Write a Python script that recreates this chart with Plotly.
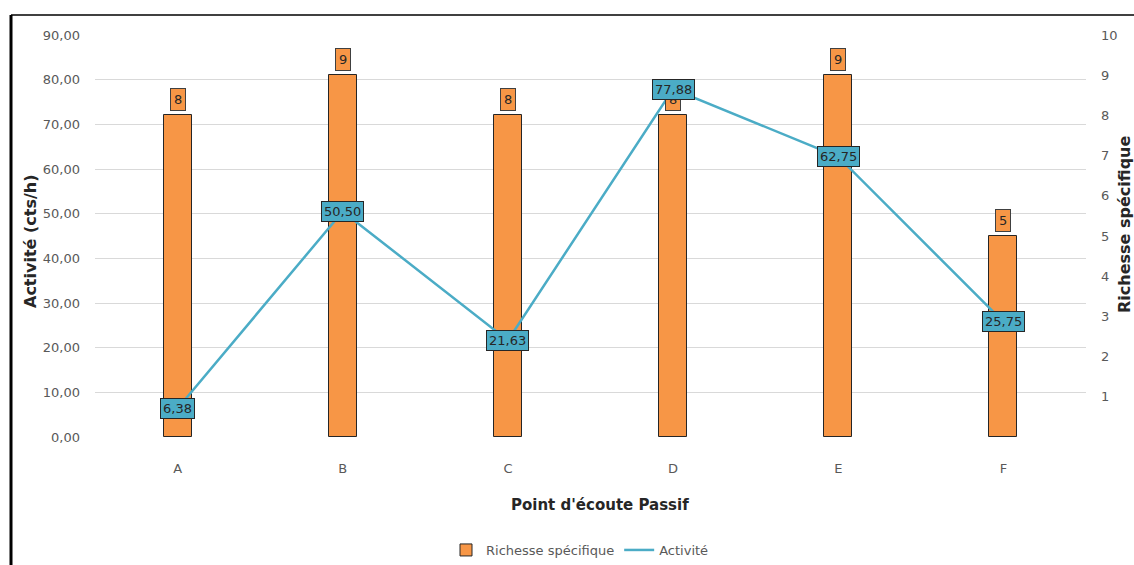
import plotly.graph_objects as go

# Data
points = ["A", "B", "C", "D", "E", "F"]
richesse = [8, 9, 8, 8, 9, 5]
activite = [6.38, 50.50, 21.63, 77.88, 62.75, 25.75]
left_ticks = [0, 10, 20, 30, 40, 50, 60, 70, 80, 90]
right_ticks = [1, 2, 3, 4, 5, 6, 7, 8, 9, 10]

ORANGE = "#F79646"
TEAL = "#4BACC6"
GREY = "#595959"
DARK = "#262626"
FONT = "DejaVu Sans"

W, H = 1134, 565
ML, MR, MT, MB = 95, 48, 35, 128
PW = W - ML - MR
PH = H - MT - MB


def px_x(p):
    return (p - ML) / PW


def px_y(p):
    return (H - MB - p) / PH


fig = go.Figure()

fig.add_trace(go.Bar(
    x=points, y=richesse, name="Richesse spécifique",
    marker=dict(color=ORANGE, line=dict(color=DARK, width=1)),
    width=0.17, yaxis="y",
))

fig.add_trace(go.Scatter(
    x=points, y=activite, name="Activité", mode="lines",
    line=dict(color=TEAL, width=2.5), yaxis="y2",
))

annotations = []
for p, r in zip(points, richesse):
    annotations.append(dict(
        x=p, y=r, xref="x", yref="y", text=str(r), showarrow=False,
        xanchor="center", yanchor="bottom", yshift=4,
        font=dict(family=FONT, size=13, color=DARK),
        bgcolor=ORANGE, bordercolor="#404040", borderwidth=1, borderpad=3,
    ))
for p, a in zip(points, activite):
    annotations.append(dict(
        x=p, y=a, xref="x", yref="y2",
        text=f"{a:.2f}".replace(".", ","), showarrow=False,
        xanchor="center", yanchor="middle",
        font=dict(family=FONT, size=13, color=DARK),
        bgcolor=TEAL, bordercolor=DARK, borderwidth=1, borderpad=2,
    ))

annotations.append(dict(
    x=px_x(30), y=px_y(241), xref="paper", yref="paper",
    xanchor="center", yanchor="middle",
    text="<b>Activité (cts/h)</b>", textangle=-90, showarrow=False,
    font=dict(family=FONT, size=16, color=DARK),
))
annotations.append(dict(
    x=px_x(1124), y=px_y(224), xref="paper", yref="paper",
    xanchor="center", yanchor="middle",
    text="<b>Richesse spécifique</b>", textangle=-90, showarrow=False,
    font=dict(family=FONT, size=16, color=DARK),
))
annotations.append(dict(
    x=px_x(600), y=px_y(505), xref="paper", yref="paper",
    xanchor="center", yanchor="middle",
    text="<b>Point d'écoute Passif</b>", showarrow=False,
    font=dict(family=FONT, size=15, color=DARK),
))

shapes = [
    dict(type="line", xref="paper", yref="paper",
         x0=px_x(11), x1=px_x(1134), y0=px_y(15), y1=px_y(15),
         line=dict(color="black", width=1.5)),
    dict(type="line", xref="paper", yref="paper",
         x0=px_x(11), x1=px_x(11), y0=px_y(15), y1=px_y(565),
         line=dict(color="black", width=3)),
]

fig.update_layout(
    width=W, height=H,
    margin=dict(l=ML, r=MR, t=MT, b=MB, autoexpand=False),
    paper_bgcolor="white", plot_bgcolor="white",
    font=dict(family=FONT, size=12, color=GREY),
    bargap=0,
    showlegend=True,
    legend=dict(orientation="h", x=px_x(580), y=px_y(550),
                xanchor="center", yanchor="middle",
                font=dict(family=FONT, size=13, color=GREY),
                itemwidth=30),
    xaxis=dict(showgrid=False, showline=False, ticks="",
               ticklabelstandoff=22,
               tickfont=dict(family=FONT, size=13, color=GREY)),
    yaxis=dict(side="right", range=[0, 10], tickvals=right_ticks,
               showgrid=False, zeroline=False, showline=False,
               ticklabelstandoff=14,
               tickfont=dict(family=FONT, size=13, color=GREY)),
    yaxis2=dict(side="left", overlaying="y", range=[0, 90],
                tickvals=left_ticks, tickformat=".2f",
                showgrid=True, gridcolor="#D9D9D9", gridwidth=1,
                zeroline=False, showline=False,
                ticklabelstandoff=14,
                tickfont=dict(family=FONT, size=13, color=GREY)),
    separators=",.",
    annotations=annotations,
    shapes=shapes,
)

fig.write_html("out.html")
